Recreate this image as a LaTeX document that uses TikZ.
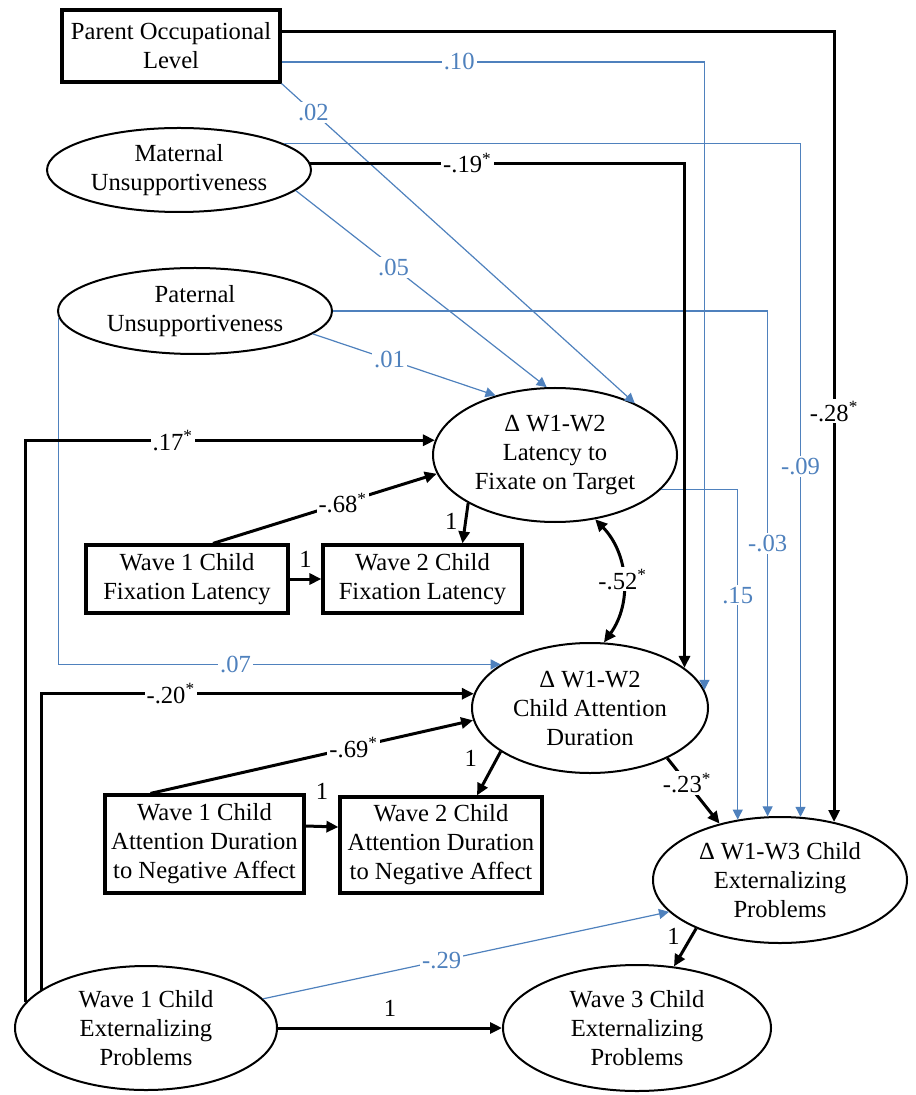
\documentclass[tikz,border=0pt]{standalone}
\usepackage{fontspec}
\setmainfont{Liberation Serif}
\newfontfamily\diagfont{Liberation Serif}
\usetikzlibrary{arrows.meta, positioning, shapes.geometric}
\definecolor{nsblue}{RGB}{79,129,189}
\tikzset{
    obsV/.style n args={2}{draw, rectangle, line width=1.6pt, align=center,
        inner sep=0pt, minimum width=#1, minimum height=#2},
    latV/.style n args={2}{draw, ellipse, line width=1pt, align=center,
        inner sep=0pt, minimum width=#1, minimum height=#2},
    pathS/.style={line width=1.5pt, ->, >={Triangle[length=6pt, width=5.5pt]}},
    pathD/.style={pathS, <->},
    pathN/.style={nsblue, line width=0.6pt, -{Triangle[length=5pt, width=5pt]}},
    coefS/.style={fill=white, inner sep=1pt, text=black},
    coefN/.style={fill=white, inner sep=1pt, text=nsblue}
}

\begin{document}
\begin{tikzpicture}[x=0.5pt, y=-0.5pt]
    \tikzstyle{every node}=[font=\diagfont\fontsize{12.3}{14.5}\selectfont];
    \useasboundingbox (0,0) rectangle (915,1095);
    \node[obsV={109pt}{36pt}] (par) at (171,46) {Parent Occupational\\Level};
    \node[latV={132pt}{42pt}] (mat) at (179,170) {Maternal\\Unsupportiveness};
    \node[latV={137pt}{43pt}] (pat) at (195,311) {Paternal\\Unsupportiveness};
    \node[latV={122pt}{67pt}] (lat) at (555,455) {Δ W1-W2\\Latency to\\Fixate on Target};
    \node[obsV={101pt}{34pt}] (fix1) at (187,579) {Wave 1 Child\\Fixation Latency};
    \node[obsV={99.5pt}{34pt}] (fix2) at (422.5,579) {Wave 2 Child\\Fixation Latency};
    \node[latV={118pt}{65pt}] (att) at (590,708) {Δ W1-W2\\Child Attention\\Duration};
    \node[obsV={99.5pt}{49pt}] (att1) at (204.5,844) {Wave 1 Child\\Attention Duration\\to Negative Affect};
    \node[obsV={101pt}{48pt}] (att2) at (441,845) {Wave 2 Child\\Attention Duration\\to Negative Affect};
    \node[latV={127pt}{63pt}] (ext13) at (780,880) {Δ W1-W3 Child\\Externalizing\\Problems};
    \node[latV={131pt}{62pt}] (ext1) at (146,1028) {Wave 1 Child\\Externalizing\\Problems};
    \node[latV={134pt}{63pt}] (ext3) at (637,1028) {Wave 3 Child\\Externalizing\\Problems};
    % non-significant paths
    \draw[pathN] ([yshift=-8pt]par.east) -| node[coefN, pos=0.21] {.10} (att.9.4);
    \draw[pathN] (par.south east) -- node[coefN, pos=0.09] {.02} (lat.33.7);
    \draw[pathN] (mat.14.7) -| node[coefN, pos=0.74] {-.09} (ext13.72.2);
    \draw[pathN] (mat.350.3) -- node[coefN, pos=0.39] {.05} (lat.97.6);
    \draw[pathN] (pat.east) -| node[coefN, pos=0.73] {-.03} (ext13.101.7);
    \draw[pathN] (pat.349.9) -- node[coefN, pos=0.42] {.01} (lat.135.9);
    \draw[pathN] (pat.183.1) |- node[coefN, pos=0.7] {.07} (att.154.1);
    \draw[pathN] (lat.342.1) -| node[coefN, pos=0.66] {.15} (ext13.125.2);
    \draw[pathN] (ext1.14.4) -- node[coefN, pos=0.44] {-.29} (ext13.196.5);
    % significant paths
    \draw[pathS] ([yshift=7pt]par.east) -| node[coefS, pos=0.74] {-.28\textsuperscript{*}} (ext13.47.2);
    \draw[pathS] (mat.3) -| node[coefS, pos=0.21] {-.19\textsuperscript{*}} (att.23.3);
    \draw[pathS] (ext1.168.3) |- node[coefS, pos=0.68] {.17\textsuperscript{*}} (lat.173.3);
    \draw[pathS] (ext1.160.6) |- node[coefS, pos=0.65] {-.20\textsuperscript{*}} (att.173.6);
    \draw[pathS] ([xshift=13pt]fix1.north) -- node[coefS, pos=0.58] {-.68\textsuperscript{*}} (lat.189);
    \draw[pathS] (fix1) -- node[yshift=10pt] {1} (fix2);
    \draw[pathS] (lat.209.5) -- node[left, pos=0.45] {1} ([xshift=20pt]fix2.north);
    \draw[pathD] (lat.302.3) to[bend left=40] node[coefS] {-.52\textsuperscript{*}} (att.78.6);
    \draw[pathS] ([xshift=-27pt]att1.north) -- node[coefS, pos=0.63] {-.69\textsuperscript{*}} (att.186.8);
    \draw[pathS] ([yshift=9pt]att1.east) -- node[yshift=17.5pt] {1} ([yshift=9pt]att2.west);
    \draw[pathS] (att.206) -- node[left=6pt, pos=0.15] {1} ([xshift=18pt]att2.north);
    \draw[pathS] (att.327) -- node[coefS, pos=0.38] {-.23\textsuperscript{*}} (ext13.137.9);
    \draw[pathS] (ext1) -- node[yshift=10pt] {1} (ext3);
    \draw[pathS] (ext13.210) -- node[left=2pt, pos=0.2] {1} (ext3.59.9);
\end{tikzpicture}
\end{document}
